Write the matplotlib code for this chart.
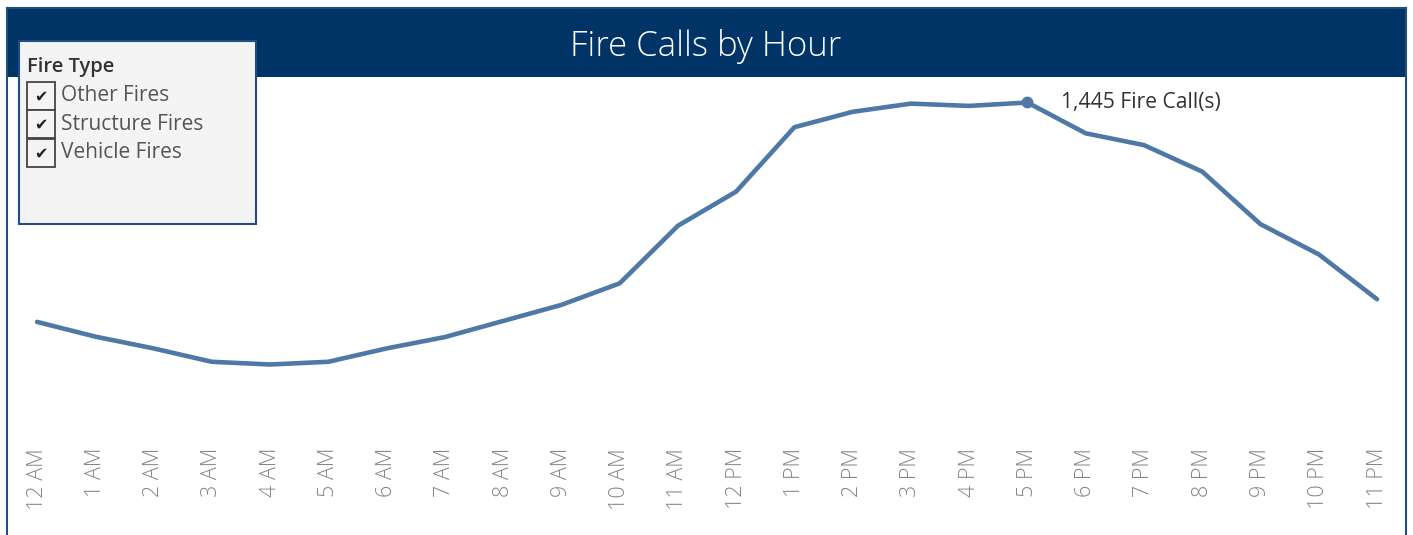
import matplotlib
matplotlib.use("Agg")
import matplotlib.pyplot as plt
from matplotlib.patches import Rectangle
from matplotlib.lines import Line2D

hours = ["12 AM", "1 AM", "2 AM", "3 AM", "4 AM", "5 AM", "6 AM", "7 AM", "8 AM",
         "9 AM", "10 AM", "11 AM", "12 PM", "1 PM", "2 PM", "3 PM", "4 PM", "5 PM",
         "6 PM", "7 PM", "8 PM", "9 PM", "10 PM", "11 PM"]
calls = [477, 412, 360, 301, 289, 301, 360, 410, 481, 552, 647, 901,
         1052, 1336, 1404, 1440, 1430, 1445, 1309, 1257, 1140, 908, 775, 577]
legend_title = "Fire Type"
fire_types = ["Other Fires", "Structure Fires", "Vehicle Fires"]
highlight_idx = 17
title = "Fire Calls by Hour"

W, H = 1413, 535
DPI = 100
plt.rcParams['font.family'] = ['Open Sans', 'DejaVu Sans']
fig = plt.figure(figsize=(W / DPI, H / DPI), dpi=DPI)
fig.patch.set_facecolor("white")

def fx(px):
    return px / W

def fy(py):
    return 1 - py / H

# main axes: pixel x 8..1405, y 78..430
ax = fig.add_axes([fx(8), fy(430), fx(1405) - fx(8), fy(78) - fy(430)])
xs = list(range(len(hours)))
ax.plot(xs, calls, color="#4e79a7", lw=3.3, solid_capstyle="round", solid_joinstyle="round", zorder=3)
ax.plot([xs[highlight_idx]], [calls[highlight_idx]], "o", color="#4e79a7", ms=7.5, zorder=4)
ax.annotate(f"{calls[highlight_idx]:,} Fire Call(s)", (xs[highlight_idx], calls[highlight_idx]),
            xytext=(34, 0), textcoords="offset pixels", va="center", ha="left",
            fontsize=15.2, color="#333333")
ax.set_xlim(-0.498, 23.48)
ax.set_ylim(0, 1445 * 352 / 327.5)
ax.set_xticks(xs)
ax.set_xticklabels(hours, rotation=90, va="top", ha="center", fontsize=15.5, color="#858585",
                   fontweight="light")
ax.tick_params(axis="x", length=0, pad=13)
ax.set_yticks([])
for s in ax.spines.values():
    s.set_visible(False)
ax.patch.set_alpha(0)

# header band
border = "#1f4e85"
fig.add_artist(Rectangle((fx(7), fy(77)), fx(1406) - fx(7), fy(8) - fy(77),
                         transform=fig.transFigure, facecolor="#003366", edgecolor="none", zorder=1))
fig.text(fx(706), fy(47), title, color="white", fontsize=25, ha="center", va="center",
         fontweight="light", zorder=5)
# outer border lines
for xline in (7, 1406):
    fig.add_artist(Line2D([fx(xline), fx(xline)], [fy(8), 0], transform=fig.transFigure,
                          color=border, lw=1.5, zorder=6))
fig.add_artist(Line2D([fx(7), fx(1406)], [fy(8), fy(8)], transform=fig.transFigure,
                      color=border, lw=1.5, zorder=6))

# legend box
fig.add_artist(Rectangle((fx(19), fy(224)), fx(256) - fx(19), fy(41) - fy(224),
                         transform=fig.transFigure, facecolor="#f4f4f4", edgecolor=border,
                         lw=1.5, zorder=7))
fig.text(fx(27), fy(67), legend_title, fontsize=14.5, fontweight="semibold", color="#333333",
         ha="left", va="center", zorder=8)
for i, name in enumerate(fire_types):
    top = 82 + i * 28.4
    fig.add_artist(Rectangle((fx(27), fy(top + 28)), fx(55) - fx(27), fy(top) - fy(top + 28),
                             transform=fig.transFigure, facecolor="#f4f4f4", edgecolor="#444444",
                             lw=1.3, zorder=8))
    fig.text(fx(41), fy(top + 15), "\u2714", family=["DejaVu Sans"], fontsize=11.5,
             color="#222222", ha="center", va="center", zorder=9)
    fig.text(fx(61), fy(top + 14), name, fontsize=15, color="#555555", ha="left", va="center",
             zorder=9)

fig.savefig("out.png", dpi=DPI, facecolor="white")
